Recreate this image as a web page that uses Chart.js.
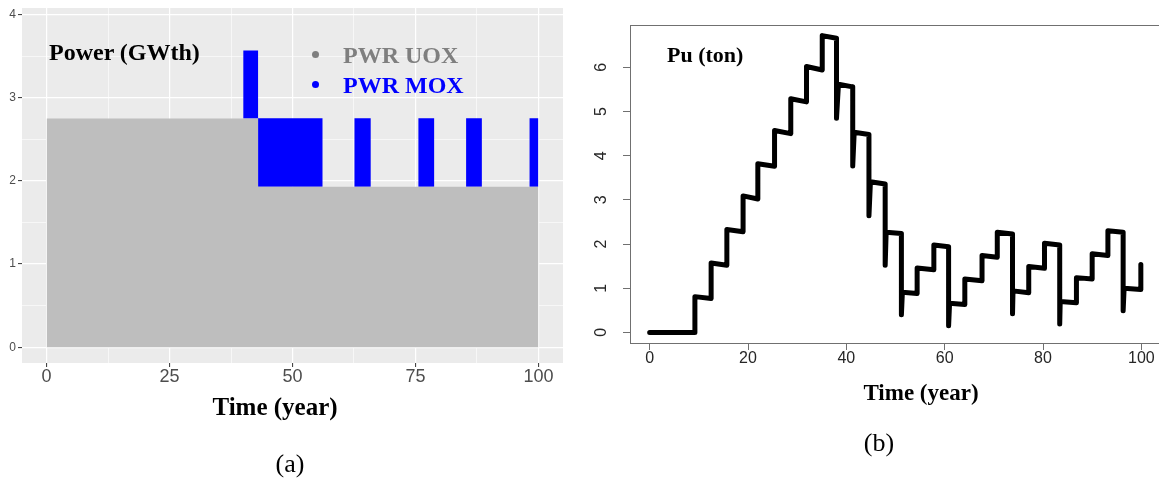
<!DOCTYPE html>
<html>
<head>
<meta charset="utf-8">
<script src="https://cdn.jsdelivr.net/npm/chart.js@4.4.1/dist/chart.umd.min.js"></script>
<style>
  html, body { margin: 0; padding: 0; background: #fff; }
  body { position: relative; width: 1159px; height: 479px; overflow: hidden; }
  .panel { position: absolute; top: 0; }
  .note { position: absolute; white-space: nowrap; line-height: 1; font-family: "Liberation Serif", "Times New Roman", serif; }
  .bold { font-weight: bold; }
  .dot { position: absolute; width: 7px; height: 7px; border-radius: 50%; }
</style>
</head>
<body>
<div class="panel" style="left:0;width:580px;height:400px;"><canvas id="powerChart" width="580" height="400"></canvas></div>
<div class="panel" style="left:580px;width:600px;height:400px;"><canvas id="puChart" width="600" height="400"></canvas></div>

<div class="note bold" style="left:49px;top:40px;font-size:24px;color:#000;">Power (GWth)</div>
<div class="dot" style="left:312px;top:51px;background:#7f7f7f;"></div>
<div class="note bold" style="left:343px;top:43px;font-size:24px;color:#7f7f7f;">PWR UOX</div>
<div class="dot" style="left:312px;top:81px;background:#0000ff;"></div>
<div class="note bold" style="left:343px;top:73px;font-size:24px;color:#0000ff;">PWR MOX</div>
<div class="note bold" style="left:175px;width:200px;text-align:center;top:394px;font-size:25px;">Time (year)</div>
<div class="note" style="left:240px;width:100px;text-align:center;top:451px;font-size:26px;">(a)</div>

<div class="note bold" style="left:667px;top:44px;font-size:22px;">Pu (ton)</div>
<div class="note bold" style="left:821px;width:200px;text-align:center;top:381px;font-size:23px;">Time (year)</div>
<div class="note" style="left:829px;width:100px;text-align:center;top:430px;font-size:26px;">(b)</div>

<script>
// (a) installed power, stacked steps: each value holds until the next year
const powerYears = [0, 40.0, 43.0, 56.1, 62.6, 65.9, 75.6, 78.8, 85.3, 88.5, 98.2, 100];
const uoxPower   = [2.75, 2.75, 1.93, 1.93, 1.93, 1.93, 1.93, 1.93, 1.93, 1.93, 1.93, 1.93];
const moxPower   = [0, 0.82, 0.825, 0, 0.825, 0, 0.825, 0, 0.825, 0, 0.825, 0.825];
const powerXTicks = [0, 25, 50, 75, 100];
const powerXMinor = [12.5, 37.5, 62.5, 87.5];
const powerYTicks = [0, 1, 2, 3, 4];
const powerYMinor = [0.5, 1.5, 2.5, 3.5];

// (b) Pu inventory, traced point by point (repeated years = vertical jumps)
const puYears = [
  0, 9.2,
  9.2, 12.5,
  12.5, 15.7,
  15.7, 19.0,
  19.0, 22.0,
  22.0, 25.4,
  25.4, 28.7,
  28.7, 31.9,
  31.9, 35.1,
  35.1, 38.0,
  38.0, 38.4, 41.3,
  41.3, 41.6, 44.6,
  44.6, 44.9, 47.9,
  47.9, 48.1, 51.2,
  51.2, 51.4, 54.4,
  54.4, 57.8,
  57.8, 60.8,
  60.8, 61.0, 64.1,
  64.1, 67.6,
  67.6, 70.7,
  70.7, 73.8,
  73.8, 73.9, 77.1,
  77.1, 80.3,
  80.3, 83.4,
  83.4, 83.5, 86.8,
  86.8, 90.0,
  90.0, 93.2,
  93.2, 96.3,
  96.3, 96.5, 99.9,
  99.9
];
const puTons = [
  0, 0,
  0.81, 0.77,
  1.57, 1.52,
  2.33, 2.28,
  3.09, 3.02,
  3.82, 3.76,
  4.57, 4.50,
  5.29, 5.22,
  6.02, 5.94,
  6.72, 6.66,
  4.85, 5.62, 5.56,
  3.77, 4.53, 4.48,
  2.64, 3.41, 3.36,
  1.52, 2.27, 2.24,
  0.40, 0.91, 0.88,
  1.46, 1.42,
  1.98, 1.94,
  0.15, 0.66, 0.63,
  1.21, 1.17,
  1.74, 1.70,
  2.27, 2.23,
  0.42, 0.94, 0.90,
  1.49, 1.45,
  2.02, 1.98,
  0.19, 0.70, 0.67,
  1.24, 1.21,
  1.78, 1.74,
  2.30, 2.27,
  0.49, 1.00, 0.97,
  1.54
];
const puXTicks = [0, 20, 40, 60, 80, 100];
const puYTicks = [0, 1, 2, 3, 4, 5, 6];

const sans = "'Liberation Sans', Arial, sans-serif";

// grey ggplot panel behind the grid
const panelBackground = {
  id: "panelBackground",
  beforeDraw(chart, args, opts) {
    const { ctx, chartArea: a } = chart;
    ctx.save();
    ctx.fillStyle = opts.color;
    ctx.fillRect(a.left, a.top, a.right - a.left, a.bottom - a.top);
    ctx.restore();
  },
};

// base R box() around the plot region
const plotBox = {
  id: "plotBox",
  afterDatasetsDraw(chart, args, opts) {
    const { ctx, chartArea: a } = chart;
    ctx.save();
    ctx.strokeStyle = opts.color;
    ctx.lineWidth = 1;
    ctx.strokeRect(Math.round(a.left) + 0.5, Math.round(a.top) + 0.5, Math.round(a.right - a.left), Math.round(a.bottom - a.top));
    ctx.restore();
  },
};

const isMajor = (list, v) => list.includes(v);

new Chart(document.getElementById("powerChart"), {
  type: "line",
  data: {
    datasets: [
      {
        label: "PWR UOX",
        data: powerYears.map((x, i) => ({ x, y: uoxPower[i] })),
        stepped: true,
        fill: "origin",
        backgroundColor: "#bebebe",
        borderWidth: 0,
        pointRadius: 0,
      },
      {
        label: "PWR MOX",
        data: powerYears.map((x, i) => ({ x, y: moxPower[i] })),
        stepped: true,
        fill: "-1",
        backgroundColor: "#0000ff",
        borderWidth: 0,
        pointRadius: 0,
      },
    ],
  },
  options: {
    responsive: false,
    animation: false,
    layout: { padding: { left: 0, top: 5, right: 17, bottom: 0 } },
    plugins: {
      legend: { display: false },
      tooltip: { enabled: false },
      panelBackground: { color: "#ebebeb" },
    },
    scales: {
      x: {
        type: "linear",
        min: -5,
        max: 105,
        afterBuildTicks: (s) => { s.ticks = powerXTicks.concat(powerXMinor).sort((a, b) => a - b).map((v) => ({ value: v })); },
        afterFit: (s) => { s.height = 37; },
        border: { display: false },
        grid: {
          color: "#ffffff",
          lineWidth: (c) => (isMajor(powerXTicks, c.tick.value) ? 1.2 : 0.6),
          tickColor: (c) => (isMajor(powerXTicks, c.tick.value) ? "#333333" : "rgba(0,0,0,0)"),
          tickWidth: 1,
          tickLength: 4,
        },
        ticks: {
          autoSkip: false,
          maxRotation: 0,
          padding: 1,
          color: "#4d4d4d",
          font: { family: sans, size: 18, lineHeight: 1 },
          callback: (v) => (isMajor(powerXTicks, v) ? String(v) : ""),
        },
      },
      y: {
        stacked: true,
        min: -0.19,
        max: 4.08,
        afterBuildTicks: (s) => { s.ticks = powerYTicks.concat(powerYMinor).sort((a, b) => a - b).map((v) => ({ value: v })); },
        afterFit: (s) => { s.width = 22; },
        border: { display: false },
        grid: {
          color: "#ffffff",
          lineWidth: (c) => (isMajor(powerYTicks, c.tick.value) ? 1.2 : 0.6),
          tickColor: (c) => (isMajor(powerYTicks, c.tick.value) ? "#333333" : "rgba(0,0,0,0)"),
          tickWidth: 1,
          tickLength: 4,
        },
        ticks: {
          autoSkip: false,
          padding: 2,
          color: "#4d4d4d",
          font: { family: sans, size: 12, lineHeight: 1 },
          callback: (v) => (isMajor(powerYTicks, v) ? String(v) : ""),
        },
      },
    },
  },
  plugins: [panelBackground],
});

new Chart(document.getElementById("puChart"), {
  type: "line",
  data: {
    datasets: [
      {
        label: "Pu",
        data: puYears.map((x, i) => ({ x, y: puTons[i] })),
        borderColor: "#000000",
        borderWidth: 5,
        borderCapStyle: "round",
        borderJoinStyle: "round",
        tension: 0,
        fill: false,
        pointRadius: 0,
      },
    ],
  },
  options: {
    responsive: false,
    animation: false,
    layout: { padding: { left: 0, top: 21, right: 19, bottom: 0 } },
    plugins: {
      legend: { display: false },
      tooltip: { enabled: false },
      plotBox: { color: "#707070" },
    },
    scales: {
      x: {
        type: "linear",
        min: -4,
        max: 104,
        afterBuildTicks: (s) => { s.ticks = puXTicks.map((v) => ({ value: v })); },
        afterFit: (s) => { s.height = 57; },
        border: { display: false },
        grid: { drawOnChartArea: false, tickColor: "#707070", tickWidth: 1, tickLength: 7 },
        ticks: {
          autoSkip: false,
          maxRotation: 0,
          padding: 1,
          color: "#262626",
          font: { family: sans, size: 16, lineHeight: 1 },
        },
      },
      y: {
        min: -0.24,
        max: 6.96,
        afterBuildTicks: (s) => { s.ticks = puYTicks.map((v) => ({ value: v })); },
        afterFit: (s) => { s.width = 50; },
        border: { display: false },
        grid: { drawOnChartArea: false, tickColor: "#707070", tickWidth: 1, tickLength: 7 },
        ticks: {
          autoSkip: false,
          minRotation: 90,
          maxRotation: 90,
          crossAlign: "center",
          padding: 17,
          color: "#262626",
          font: { family: sans, size: 16, lineHeight: 1 },
        },
      },
    },
  },
  plugins: [plotBox],
});
</script>
</body>
</html>
